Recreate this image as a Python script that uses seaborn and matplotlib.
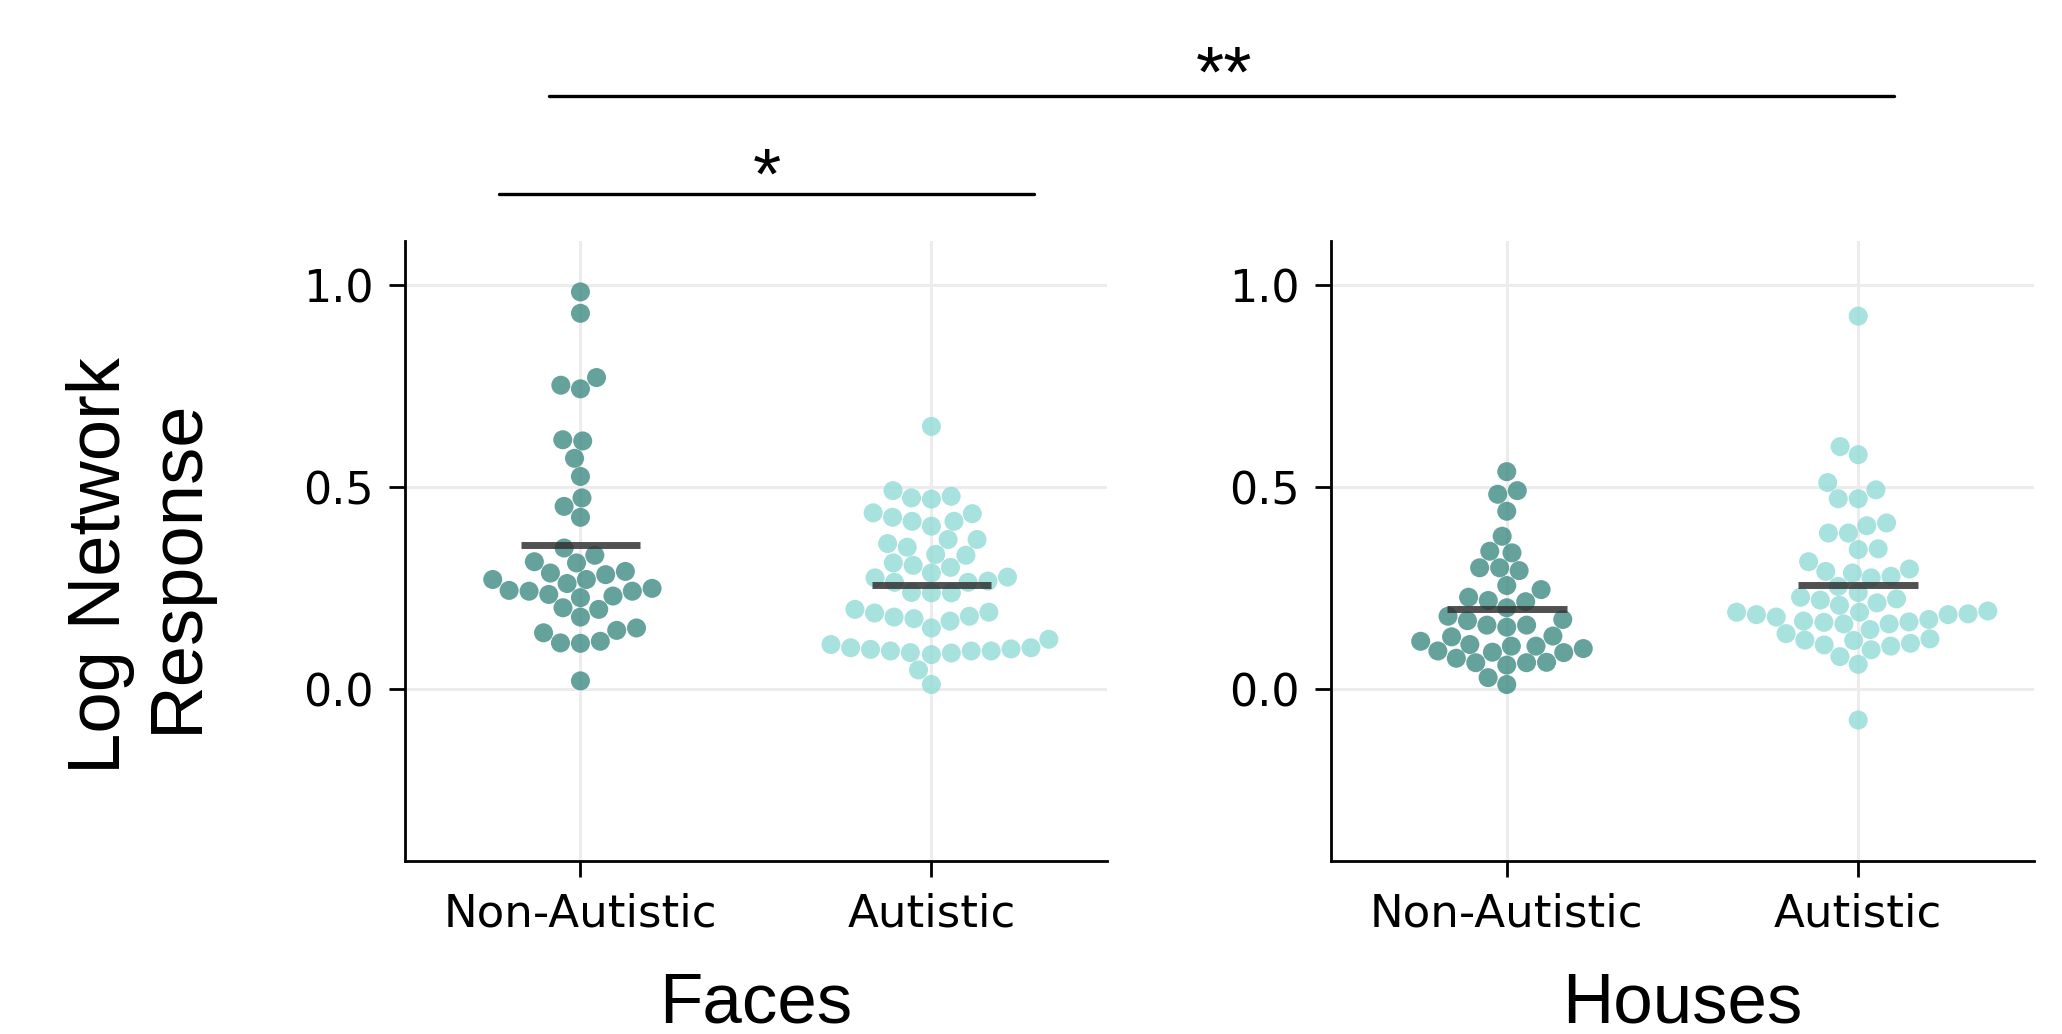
import numpy as np
import pandas as pd
import matplotlib
matplotlib.use("Agg")
import matplotlib.pyplot as plt
import seaborn as sns
from matplotlib.lines import Line2D

# ---------------- data ----------------
groups = ["Non-Autistic", "Autistic"]
conditions = ["Faces", "Houses"]
y_ticks = [0.0, 0.5, 1.0]
y_label = "Log Network\nResponse"

faces_non_autistic = [
    0.984, 0.931, 0.772, 0.753, 0.744, 0.618, 0.615, 0.572, 0.527, 0.474,
    0.453, 0.426, 0.350, 0.332, 0.313, 0.316, 0.292, 0.284, 0.288, 0.272,
    0.272, 0.262, 0.243, 0.243, 0.235, 0.227, 0.231, 0.245, 0.250, 0.202,
    0.198, 0.179, 0.140, 0.115, 0.114, 0.119, 0.146, 0.152, 0.021,
]
faces_autistic = [
    0.651, 0.492, 0.474, 0.471, 0.478, 0.437, 0.435, 0.416, 0.404, 0.416,
    0.426, 0.371, 0.352, 0.361, 0.371, 0.334, 0.332, 0.313, 0.307, 0.288,
    0.302, 0.276, 0.265, 0.265, 0.268, 0.278, 0.240, 0.239, 0.239, 0.191,
    0.181, 0.169, 0.152, 0.175, 0.179, 0.189, 0.198, 0.111, 0.100, 0.099,
    0.095, 0.090, 0.086, 0.091, 0.095, 0.095, 0.103, 0.103, 0.124, 0.048,
    0.012,
]
houses_non_autistic = [
    0.539, 0.483, 0.492, 0.441, 0.379, 0.338, 0.342, 0.294, 0.301, 0.301,
    0.257, 0.247, 0.228, 0.220, 0.202, 0.217, 0.181, 0.173, 0.159, 0.154,
    0.159, 0.170, 0.132, 0.111, 0.107, 0.107, 0.130, 0.119, 0.095, 0.077,
    0.066, 0.092, 0.060, 0.066, 0.067, 0.091, 0.101, 0.029, 0.012,
]
houses_autistic = [
    0.924, 0.601, 0.581, 0.512, 0.472, 0.472, 0.494, 0.387, 0.387, 0.405,
    0.412, 0.346, 0.348, 0.316, 0.298, 0.292, 0.276, 0.280, 0.288, 0.255,
    0.240, 0.224, 0.221, 0.208, 0.214, 0.228, 0.194, 0.191, 0.185, 0.179,
    0.169, 0.166, 0.162, 0.148, 0.162, 0.167, 0.173, 0.185, 0.187, 0.191,
    0.138, 0.122, 0.110, 0.081, 0.114, 0.062, 0.098, 0.107, 0.121, 0.125,
    -0.076,
]

significance = [
    # (label, x-start, x-end, bar-y, text-x, text-baseline) in figure fraction
    ("*", 0.2420, 0.5015, 0.8119, 0.3720, 0.8075),
    ("**", 0.2662, 0.9185, 0.9076, 0.5936, 0.9070),
]

palette = {"Non-Autistic": "#3f8b84", "Autistic": "#92dbd6"}

data_by_condition = {
    "Faces": {"Non-Autistic": faces_non_autistic, "Autistic": faces_autistic},
    "Houses": {"Non-Autistic": houses_non_autistic, "Autistic": houses_autistic},
}

# ---------------- style ----------------
sns.set_theme(style="whitegrid", rc={
    "grid.color": "#ececec",
    "grid.linewidth": 2.2,
    "axes.edgecolor": "black",
    "axes.linewidth": 2.0,
    "axes.labelcolor": "black",
    "text.color": "black",
    "xtick.bottom": True,
    "ytick.left": True,
    "xtick.major.size": 11.5,
    "ytick.major.size": 11.5,
    "xtick.major.width": 2.0,
    "ytick.major.width": 2.0,
    "xtick.major.pad": 11,
    "ytick.major.pad": 11,
    "xtick.color": "black",
    "ytick.color": "black",
    "xtick.labelsize": 32.5,
    "ytick.labelsize": 32,
})
plt.rcParams["font.family"] = ["DejaVu Sans"]
label_font = ["Liberation Sans", "Arial", "DejaVu Sans"]

fig = plt.figure(figsize=(20.62, 10.34), dpi=100)
axes_pos = [
    [0.1964, 0.1673, 0.3404, 0.5996],
    [0.6455, 0.1673, 0.3409, 0.5996],
]

for i, cond in enumerate(conditions):
    ax = fig.add_axes(axes_pos[i])
    rows = []
    for g in groups:
        for v in data_by_condition[cond][g]:
            rows.append({"group": g, "value": v})
    df = pd.DataFrame(rows)

    sns.swarmplot(
        data=df, x="group", y="value", hue="group",
        order=groups, hue_order=groups, palette=palette,
        size=13.7, alpha=0.8, linewidth=0, legend=False,
        ax=ax, zorder=3, warn_thresh=1.0,
    )

    means = df.groupby("group")["value"].mean()
    for j, g in enumerate(groups):
        ax.hlines(means[g], j - 0.17, j + 0.17, colors="#333333",
                  linewidth=5, alpha=0.85, zorder=4)

    ax.set_xlim(-0.5, 1.5)
    ax.set_ylim(-0.425, 1.11)
    ax.set_yticks(y_ticks)
    ax.set_yticklabels([f"{t:.1f}" for t in y_ticks])
    ax.grid(True, axis="both")
    ax.set_axisbelow(True)
    sns.despine(ax=ax)

    ax.set_xlabel(cond, fontsize=51, family=label_font, va="top",
                  color="black")
    ax.xaxis.set_label_coords(0.5, -0.178)
    if i == 0:
        ax.set_ylabel(y_label, fontsize=53.5, family=label_font,
                      linespacing=1.15, color="black")
        ax.yaxis.set_label_coords(-0.275, 0.476)
    else:
        ax.set_ylabel("")

# significance annotations
for label, x0, x1, yb, tx, ty in significance:
    fig.add_artist(Line2D([x0, x1], [yb, yb], transform=fig.transFigure,
                          color="black", linewidth=2.4))
    fig.text(tx, ty, label, ha="center", va="baseline", fontsize=52,
             family=label_font, color="black")

fig.savefig("out.png", dpi=100, facecolor="white")
